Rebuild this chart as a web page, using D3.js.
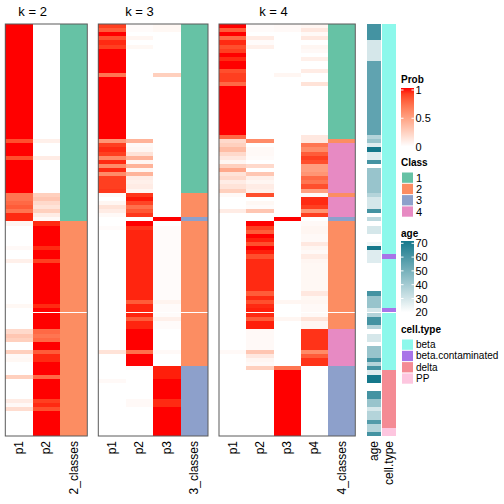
<!DOCTYPE html>
<html><head><meta charset="utf-8">
<script src="https://cdn.jsdelivr.net/npm/d3@7/dist/d3.min.js"></script>
<style>body{margin:0;background:#fff}svg{display:block}</style>
</head><body><svg id="c" width="504" height="504"></svg>
<script>
// ---------------- data (one value per sample row, top to bottom) ----------------
const k2p1 = [
1,1,1,1,1,1,1,1,1,1, 1,1,1,1,1,1,1,1,1,1, 1,1,1,1,1,1,1,1,.85,1, 1,1,.85,1,1,1,1,1,1,1,
1,.7,.7,.75,.8,.7,.95,.95,.05,0, 0,0,0,0,.03,0,0,.08,0,0, 0,0,0,0,0,0,0,0,.04,0,
0,0,0,0,.2,.3,.25,0,0,.25, .03,.04,0,0,0,.25,0,0,0,0, 0,.1,.03,.18,0,0,0,0,0,0];
const k2p2 = [
0,0,0,0,0,0,0,0,0,0, 0,0,0,0,0,0,0,0,0,0, 0,0,0,0,0,0,0,0,.08,0, 0,0,.1,0,0,0,0,0,0,0,
0,.25,.3,.2,.15,.25,.1,.03,.95,1, 1,1,1,1,.95,1,1,.9,1,1, 1,1,1,1,1,1,1,1,.95,1,
1,1,1,1,.75,.7,.75,1,1,.8, .95,.95,1,1,1,.75,1,1,1,1, 1,.9,.95,.85,1,1,1,1,1,1];
const k2class = [
1,1,1,1,1,1,1,1,1,1, 1,1,1,1,1,1,1,1,1,1, 1,1,1,1,1,1,1,1,1,1, 1,1,1,1,1,1,1,1,1,1,
1,1,1,1,1,1,1,1,2,2, 2,2,2,2,2,2,2,2,2,2, 2,2,2,2,2,2,2,2,2,2,
2,2,2,2,2,2,2,2,2,2, 2,2,2,2,2,2,2,2,2,2, 2,2,2,2,2,2,2,2,2,2];

const k3p1 = [
.9,.8,1,.85,.95,.9,1,1,1,1, 1,1,.7,1,1,1,1,1,1,1, 1,1,1,1,1,1,1,1,.55,.9, .95,.9,.6,.95,.6,.95,.6,.9,.9,.9,
.92,.03,0,.05,.15,.1,.03,0,0,.02, 0,0,0,0,0,0,0,0,0,0, 0,0,0,0,0,0,0,0,0,0,
0,0,0,0,0,0,0,0,0,.15, 0,0,0,0,0,0,.03,0,0,0, 0,0,0,0,0,0,0,0,0,0];
const k3p2 = [
.02,.02,0,.05,0,.04,0,0,0,0, 0,0,0,0,0,0,0,0,0,0, 0,0,0,0,0,0,0,0,.4,.03, .05,.15,.4,.05,.4,.05,.4,.1,.08,.1,
.05,.92,.98,.88,.72,.82,.92,0,1,.93, .96,.96,.96,.96,.96,.96,.96,.96,.96,.96, .96,.96,.96,.96,.96,.96,.96,.8,.96,.96,
.96,.8,.96,.96,1,1,1,1,1,.72, 1,1,1,.03,0,0,0,0,0,0, 0,.03,.03,0,0,0,0,0,0,0];
const k3p3 = [
.04,.04,0,0,0,0,0,0,0,0, 0,0,.25,0,0,0,0,0,0,0, 0,0,0,0,0,0,0,0,0,0, 0,0,0,0,0,0,0,0,0,0,
0,0,0,0,0,0,0,1,0,.02, .02,.02,.02,.02,.02,.02,.02,.02,.02,.02, .02,.02,.02,.02,.02,.02,.02,.06,.02,.02,
.02,.08,.02,.02,0,0,0,0,0,.03, 0,0,0,.97,.97,.97,1,1,1,1, 1,.95,.95,1,1,1,1,1,1,1];
const k3class = [
1,1,1,1,1,1,1,1,1,1, 1,1,1,1,1,1,1,1,1,1, 1,1,1,1,1,1,1,1,1,1, 1,1,1,1,1,1,1,1,1,1,
1,2,2,2,2,2,2,3,2,2, 2,2,2,2,2,2,2,2,2,2, 2,2,2,2,2,2,2,2,2,2,
2,2,2,2,2,2,2,2,2,2, 2,2,2,3,3,3,3,3,3,3, 3,3,3,3,3,3,3,3,3,3];

const k4p1 = [
1,.8,1,.75,.95,.85,.9,1,.95,1, 1,.85,.9,.9,.75,1,1,1,1,1, 1,1,1,1,1,1,1,.75,.2,.25, .35,.2,.12,.05,.25,.45,.15,.2,.1,.15,
.25,.03,0,0,0,.1,0,0,0,0, 0,0,0,0,0,0,0,0,0,0, 0,0,0,0,0,0,0,0,0,0,
0,0,0,0,0,0,0,0,0,.03, 0,0,0,0,0,0,0,0,0,0, 0,0,0,0,0,0,0,0,0,0];
const k4p2 = [
.02,.02,0,.1,.02,.08,0,0,0,0, 0,0,0,0,0,0,0,0,0,0, 0,0,0,0,0,0,0,0,.6,0, .03,.03,.02,0,.2,0,.3,.08,.05,.1,
.08,.85,0,.04,.02,.3,0,0,1,.9, .8,1,.97,.85,1,.97,.85,.95,.95,.95, .95,.95,.95,.95,.95,.8,.95,.85,.95,.97,
.95,.8,.97,.97,.03,.03,.03,.03,.03,.3, .12,.05,.03,.25,0,0,0,0,0,0, 0,0,0,0,0,0,0,0,0,0];
const k4p3 = [
.03,.03,0,0,0,0,0,0,0,0, 0,0,.05,0,0,0,0,0,0,0, 0,0,0,0,0,0,0,0,0,0, 0,0,0,0,0,0,0,0,0,0,
0,0,0,0,0,0,0,1,0,0, 0,0,0,0,0,0,0,0,0,0, 0,0,0,0,0,0,0,.05,0,0,
0,.05,0,0,0,0,0,0,0,0, 0,0,0,.7,1,1,1,1,1,1, 1,1,1,1,1,1,1,1,1,1];
const k4p4 = [
.05,.12,.03,.12,0,.05,.03,0,.08,0, 0,.1,0,0,.15,0,0,0,0,0, 0,0,0,0,0,0,0,.12,.12,.7, .6,.8,.9,.85,.5,.5,.55,.75,.7,.85,
.5,.03,.95,.95,.9,.55,.9,0,.03,.05, .05,.03,.03,.12,.05,.03,.1,.05,.04,.04, .04,.04,.04,.04,.04,.12,.04,.05,.03,.03,
.03,.15,.05,.05,.93,.93,.93,.93,.93,.6, .8,.93,.93,0,0,0,0,0,0,0, 0,0,0,0,0,0,0,0,0,0];
const k4class = [
1,1,1,1,1,1,1,1,1,1, 1,1,1,1,1,1,1,1,1,1, 1,1,1,1,1,1,1,1,2,4, 4,4,4,4,4,4,4,4,4,4,
4,2,4,4,4,4,4,3,2,2, 2,2,2,2,2,2,2,2,2,2, 2,2,2,2,2,2,2,2,2,2,
2,2,2,2,4,4,4,4,4,4, 4,4,4,3,3,3,3,3,3,3, 3,3,3,3,3,3,3,3,3,3];

const ageVals = [
60,60,60,60,29,29,29,29,29,54, 54,54,54,54,54,54,54,54,54,54, 54,54,54,54,54,54,54,36,42,27, 70,27,27,60,20,42,42,42,42,42,
42,36,29,29,29,60,20,34,20,29, 29,20,20,23,70,27,27,27,20,20, 20,20,20,20,20,60,42,42,42,29,
36,60,60,36,20,29,29,20,42,42, 42,60,36,60,27,70,70,20,20,60, 60,42,42,29,36,36,57,36,36,60];

const cellTypes = ["beta","beta.contaminated","delta","PP"];
const cellTypeIdx = [
0,0,0,0,0,0,0,0,0,0, 0,0,0,0,0,0,0,0,0,0, 0,0,0,0,0,0,0,0,0,0, 0,0,0,0,0,0,0,0,0,0,
0,0,0,0,0,0,0,0,0,0, 0,0,0,0,0,0,1,0,0,0, 0,0,0,0,0,0,0,0,0,1,
0,0,0,0,0,0,0,0,0,0, 0,0,0,0,2,2,2,2,2,2, 2,2,2,2,2,2,2,2,3,3];

const classLevels = [1,2,3,4];
const probTicks = [0, 0.5, 1];
const ageTicks = [20,30,40,50,60,70];

// ---------------- colours ----------------
const probColor = d3.scaleLinear().domain([0,1]).range(["#ffffff","#ff0000"]).interpolate(d3.interpolateLab);
const classColor = d3.scaleOrdinal().domain(classLevels).range(["#66c2a5","#fc8d62","#8da0cb","#e78ac3"]);
const ageColor = d3.scaleLinear().domain([20,70]).range(["#ffffff","#15788b"]);
const cellColor = d3.scaleOrdinal().domain(cellTypes).range(["#8cf8eb","#a874e8","#f48b94","#fdc6df"]);

// ---------------- layout ----------------
const svg = d3.select("#c");
const font = "Liberation Sans, Arial, Helvetica, sans-serif";
const nRows = ageVals.length;
const ySlice1 = d3.scaleBand().domain(d3.range(0,70)).range([24,312]);
const ySlice2 = d3.scaleBand().domain(d3.range(70,nRows)).range([313,436]);
const yPos = i => i < 70 ? ySlice1(i) : ySlice2(i);
const yH = i => i < 70 ? ySlice1.bandwidth() : ySlice2.bandwidth();
const rows = d3.range(nRows);

const panels = [
  {title:"k = 2", range:[5.3,87.3], cols:["p1","p2","2_classes"], probs:[k2p1,k2p2], cls:k2class},
  {title:"k = 3", range:[98.3,208], cols:["p1","p2","p3","3_classes"], probs:[k3p1,k3p2,k3p3], cls:k3class},
  {title:"k = 4", range:[219,355.3], cols:["p1","p2","p3","p4","4_classes"], probs:[k4p1,k4p2,k4p3,k4p4], cls:k4class}
];

panels.forEach(p => {
  const x = d3.scaleBand().domain(p.cols).range(p.range);
  const g = svg.append("g");
  p.probs.forEach((arr, j) => {
    g.append("g").selectAll("rect").data(rows).join("rect")
      .attr("x", x(p.cols[j])).attr("width", x.bandwidth())
      .attr("y", i => yPos(i)).attr("height", i => yH(i))
      .attr("fill", i => probColor(arr[i]))
      .attr("shape-rendering","crispEdges");
  });
  const cc = p.cols[p.cols.length-1];
  g.append("g").selectAll("rect").data(rows).join("rect")
    .attr("x", x(cc)).attr("width", x.bandwidth())
    .attr("y", i => yPos(i)).attr("height", i => yH(i))
    .attr("fill", i => classColor(p.cls[i]))
    .attr("shape-rendering","crispEdges");
  g.append("rect").attr("x", p.range[0]).attr("y", 24)
    .attr("width", p.range[1]-p.range[0]).attr("height", 412)
    .attr("fill","none").attr("stroke","#5a5a5a").attr("stroke-width",1);
  const pc = p.cols.slice(0, p.probs.length);
  const cx = (x(pc[0]) + x(pc[pc.length-1]) + x.bandwidth())/2;
  g.append("text").attr("x", cx).attr("y", 16).attr("text-anchor","middle")
    .attr("font-family", font).attr("font-size", 13).text(p.title);
  g.selectAll("text.cl").data(p.cols).join("text").attr("class","cl")
    .attr("transform", d => `translate(${x(d)+x.bandwidth()/2},441) rotate(-90)`)
    .attr("text-anchor","end").attr("dominant-baseline","central")
    .attr("font-family", font).attr("font-size", 12).text(d => d);
});

// annotations
const xa = d3.scaleBand().domain(["age","cell.type"]).range([367,396]).paddingInner(0.07);
const ga = svg.append("g");
ga.append("g").selectAll("rect").data(rows).join("rect")
  .attr("x", xa("age")).attr("width", xa.bandwidth())
  .attr("y", i => yPos(i)).attr("height", i => yH(i))
  .attr("fill", i => ageColor(ageVals[i])).attr("shape-rendering","crispEdges");
ga.append("g").selectAll("rect").data(rows).join("rect")
  .attr("x", xa("cell.type")).attr("width", xa.bandwidth())
  .attr("y", i => yPos(i)).attr("height", i => yH(i))
  .attr("fill", i => cellColor(cellTypes[cellTypeIdx[i]])).attr("shape-rendering","crispEdges");
ga.selectAll("text").data(xa.domain()).join("text")
  .attr("transform", d => `translate(${xa(d)+xa.bandwidth()/2},441) rotate(-90)`)
  .attr("text-anchor","end").attr("dominant-baseline","central")
  .attr("font-family", font).attr("font-size", 12).text(d => d);

// ---------------- legends ----------------
const defs = svg.append("defs");
function gradLegend(id, title, titleY, barTop, barBot, scale, color, ticks, fmt) {
  const lg = defs.append("linearGradient").attr("id", id)
    .attr("x1",0).attr("y1",1).attr("x2",0).attr("y2",0);
  const dom = scale.domain();
  d3.range(0,1.0001,0.1).forEach(t => {
    const v = dom[0] + t*(dom[1]-dom[0]);
    lg.append("stop").attr("offset", t).attr("stop-color", color(v));
  });
  svg.append("text").attr("x",401).attr("y",titleY).attr("font-family",font)
    .attr("font-size",10).attr("font-weight","bold").text(title);
  svg.append("rect").attr("x",401).attr("y",barTop).attr("width",13)
    .attr("height",barBot-barTop).attr("fill",`url(#${id})`);
  ticks.forEach(t => {
    const y = scale(t);
    if (t !== dom[0]) {
      svg.append("line").attr("x1",401).attr("x2",403.5).attr("y1",y).attr("y2",y).attr("stroke","#fff").attr("stroke-width",1);
      svg.append("line").attr("x1",411.5).attr("x2",414).attr("y1",y).attr("y2",y).attr("stroke","#fff").attr("stroke-width",1);
    }
    svg.append("text").attr("x",415.5).attr("y",y).attr("dominant-baseline","central")
      .attr("font-family",font).attr("font-size",11).text(fmt(t));
  });
}
const probLegScale = d3.scaleLinear().domain([0,1]).range([146.5,90]);
gradLegend("gProb","Prob",83,88,146.5,probLegScale,probColor,probTicks,d => String(d));
const ageLegScale = d3.scaleLinear().domain([20,70]).range([312.3,243.3]);
gradLegend("gAge","age",236.5,241,312.3,ageLegScale,ageColor,ageTicks,d => String(d));

function catLegend(title, titleY, top, items, color, fs) {
  svg.append("text").attr("x",401).attr("y",titleY).attr("font-family",font)
    .attr("font-size",10).attr("font-weight","bold").text(title);
  const ys = d3.scaleBand().domain(items).range([top, top + 11.3*items.length]);
  items.forEach(it => {
    svg.append("rect").attr("x",402).attr("y",ys(it)+0.5).attr("width",11).attr("height",ys.bandwidth()-1)
      .attr("fill",color(it));
    svg.append("text").attr("x",416).attr("y",ys(it)+ys.bandwidth()/2).attr("dominant-baseline","central")
      .attr("font-family",font).attr("font-size",fs).text(it);
  });
}
catLegend("Class",166,172,classLevels,classColor,11);
catLegend("cell.type",333,339,cellTypes,cellColor,10);
</script></body></html>
